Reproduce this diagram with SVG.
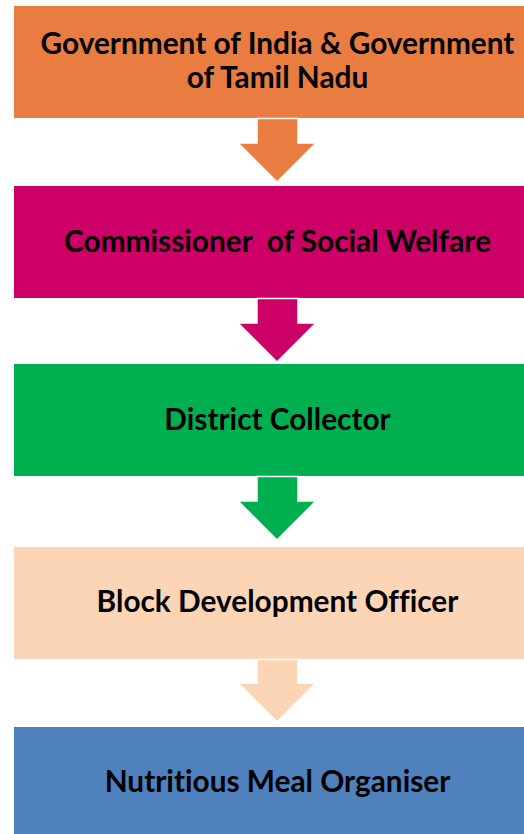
<svg xmlns="http://www.w3.org/2000/svg" width="524" height="834" viewBox="0 0 524 834">
<style>
.lbl{font-family:Lato,"Open Sans","Liberation Sans",sans-serif;font-weight:bold;font-size:29.8px;fill:#000;text-anchor:middle;font-variant-ligatures:none;font-feature-settings:"liga" 0}
.arr{stroke:#fff;stroke-width:1.5;stroke-linejoin:miter}
</style>
<rect width="524" height="834" fill="#fff"/>
<g id="n1"><rect x="14" y="6" width="510" height="112" fill="#E97C40"/>
<text class="lbl" x="277.5" y="54">Government of India &amp; Government</text>
<text class="lbl" x="277.5" y="88">of Tamil Nadu</text></g>
<g id="n2"><rect x="14" y="186" width="510" height="112" fill="#CC0066"/>
<text class="lbl" x="277.5" y="252" xml:space="preserve">Commissioner  of Social Welfare</text></g>
<g id="n3"><rect x="14" y="364" width="510" height="112" fill="#00B050"/>
<text class="lbl" x="277.5" y="430">District Collector</text></g>
<g id="n4"><rect x="14" y="547" width="510" height="112" fill="#FBD5B5"/>
<text class="lbl" x="277.5" y="612">Block Development Officer</text></g>
<g id="n5"><rect x="14" y="727" width="510" height="110" fill="#4F81BD"/>
<text class="lbl" x="277.5" y="792">Nutritious Meal Organiser</text></g>
<g id="connectors">
<path class="arr" fill="#E97C40" d="M257,118.5 H298 V143 H316 L277,182 L238,143 H257 Z"/>
<path class="arr" fill="#CC0066" d="M257,298.5 H298 V323 H316 L277,362 L238,323 H257 Z"/>
<path class="arr" fill="#00B050" d="M257,476.5 H298 V501 H316 L277,540 L238,501 H257 Z"/>
<path class="arr" fill="#FBD5B5" d="M257,659.5 H298 V683 H316 L277,722 L238,683 H257 Z"/>
</g>
</svg>
